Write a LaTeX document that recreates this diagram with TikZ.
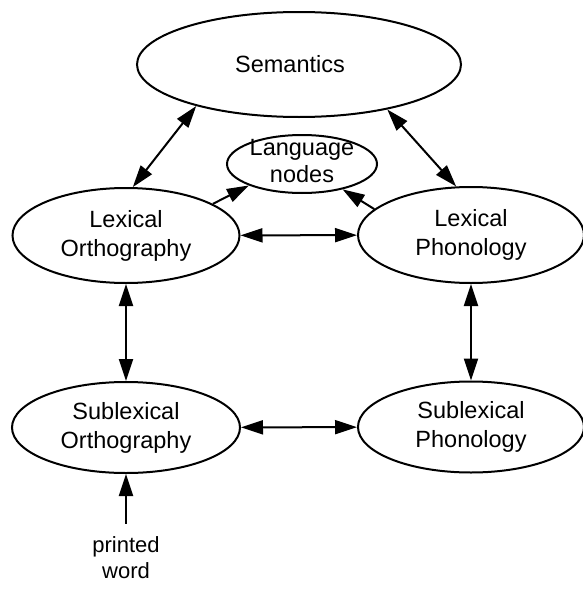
\documentclass[tikz,border=0pt]{standalone}
\usepackage{fontspec}
\setmainfont{Liberation Sans}
\usetikzlibrary{shapes.geometric,arrows.meta}

\begin{document}
\begin{tikzpicture}[x=1pt,y=-1pt,
  bub/.style={draw, ellipse, line width=2pt, inner sep=0pt, align=center,
    font=\fontsize{23.5}{29}\selectfont},
  link/.style={line width=2pt, -{Triangle[length=22pt,width=14pt]}},
  twoway/.style={line width=2pt, {Triangle[length=22pt,width=14pt]}-{Triangle[length=22pt,width=14pt]}}]

  % canvas
  \fill[white] (0,0) rectangle (582,589);
  \useasboundingbox (0,0) rectangle (582,589);

  % processing levels
  \node[bub, minimum width=324pt, minimum height=105pt] (sem) at (299,64.5) {Semantics\hspace*{18pt}};
  \node[bub, minimum width=150pt, minimum height=58pt,
        label={[align=center, font=\fontsize{23.5}{27}\selectfont, yshift=3pt]center:Language\\nodes}]
        (lang) at (302,164) {};
  \node[bub, minimum width=227pt, minimum height=95pt] (lo) at (126,235.5) {Lexical\\Orthography};
  \node[bub, minimum width=226pt, minimum height=96pt] (lp) at (471,235) {Lexical\\Phonology};
  \node[bub, minimum width=228pt, minimum height=91pt] (so) at (126,427.5) {Sublexical\\Orthography};
  \node[bub, minimum width=226pt, minimum height=91pt] (sp) at (471,427) {Sublexical\\Phonology};

  % input
  \node[align=center, inner xsep=0pt, inner ysep=13pt,
        font=\fontsize{22}{26}\selectfont] (pw) at (126,558) {printed\\word};

  % connections
  \draw[twoway] (sem.202.3) -- (lo.82.1);
  \draw[twoway] (sem.333.4) -- (lp.107.7);
  \draw[link] (lo.20.7) -- (lang.202);
  \draw[link] (lp.165.1) -- (lang.328.1);
  \draw[twoway] (lo) -- (lp);
  \draw[twoway] (lo.south) -- (so.north);
  \draw[twoway] (lp.south) -- (sp.north);
  \draw[twoway] (so) -- (sp);
  \draw[link] (pw.north) -- (so.south);
\end{tikzpicture}
\end{document}
